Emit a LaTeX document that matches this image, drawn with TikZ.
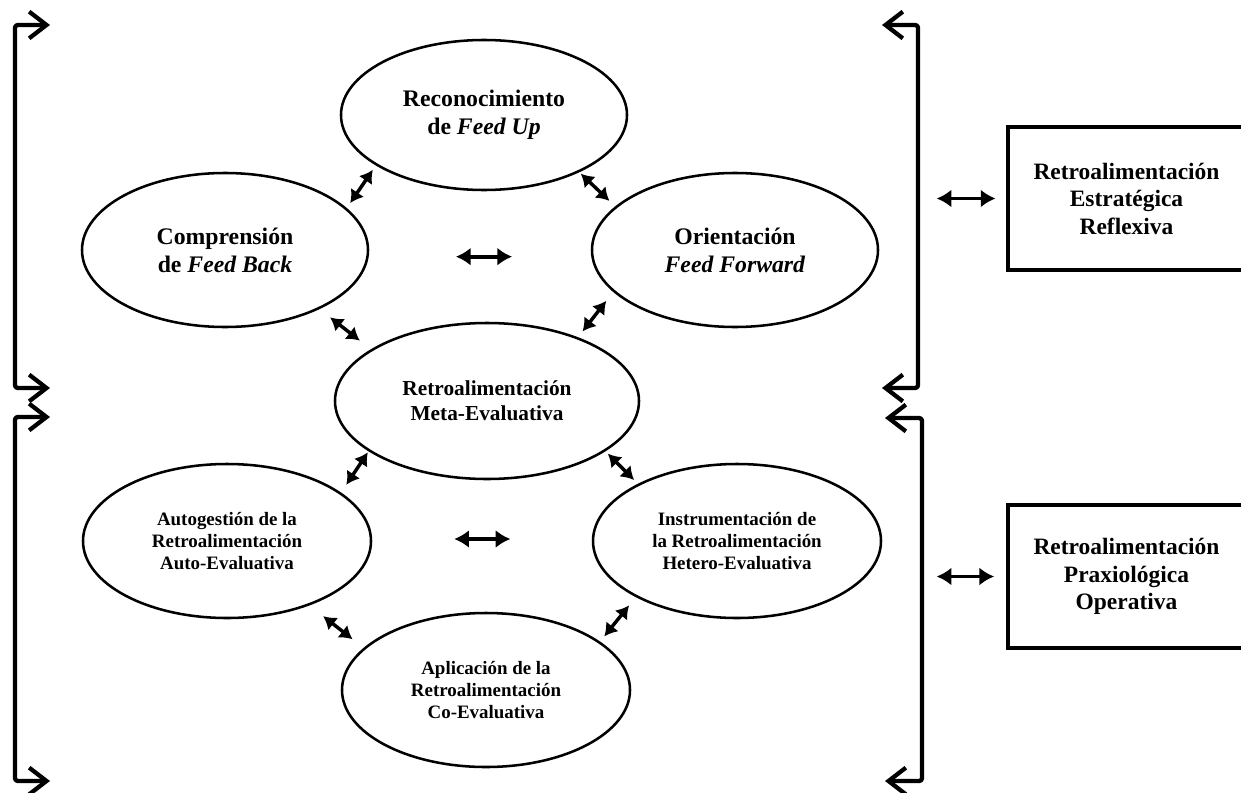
\documentclass[tikz,border=0pt]{standalone}
\usepackage{fontspec}
\setmainfont{Liberation Serif}
\usetikzlibrary{arrows.meta,shapes.geometric,calc}

\begin{document}
\begin{tikzpicture}[
        x=0.75pt,
        y=-0.75pt,
        >=Latex,
        every node/.style={font=\bfseries, align=center},
        elli/.style={draw, ellipse, line width=1.9pt, inner sep=0pt},
        bigtxt/.style={font=\bfseries\fontsize{17.8}{21}\selectfont},
        midtxt/.style={font=\bfseries\fontsize{16}{18.8}\selectfont},
        smalltxt/.style={font=\bfseries\fontsize{14.2}{16.3}\selectfont},
        sidebox/.style={draw, line width=2.8pt, minimum width=177.75pt, minimum height=107.25pt,
            font=\bfseries\fontsize{17.6}{20.6}\selectfont},
        dbl/.style={{Latex[length=9.5pt,width=12pt]}-{Latex[length=9.5pt,width=12pt]}, line width=2.6pt},
        dblwide/.style={{Latex[length=11pt,width=13.5pt]}-{Latex[length=11pt,width=13.5pt]}, line width=2.8pt},
        brk/.style={{Straight Barb[length=13pt,width=20pt]}-{Straight Barb[length=13pt,width=20pt]},
            line width=3.2pt, rounded corners=2pt, line cap=round, line join=round}
    ]
        \useasboundingbox (0,0) rectangle (1241,792);

        % upper group
        \node[elli, bigtxt, minimum width=214.5pt, minimum height=112.5pt] (feedup) at (484,115) {Reconocimiento\\de \textit{Feed Up}};
        \node[elli, bigtxt, minimum width=214.5pt, minimum height=115.5pt] (feedback) at (225,250) {Comprensión\\de \textit{Feed Back}};
        \node[elli, bigtxt, minimum width=214.5pt, minimum height=115.5pt] (feedfwd) at (735,250) {Orientación\\\textit{Feed Forward}};
        \node[elli, midtxt, minimum width=228pt, minimum height=117pt] (meta) at (487,401) {Retroalimentación\\Meta-Evaluativa};

        % lower group
        \node[elli, smalltxt, minimum width=216pt, minimum height=115.5pt] (auto) at (227,541) {Autogestión de la\\Retroalimentación\\Auto-Evaluativa};
        \node[elli, smalltxt, minimum width=216pt, minimum height=115.5pt] (hetero) at (737,541) {Instrumentación de\\la Retroalimentación\\Hetero-Evaluativa};
        \node[elli, smalltxt, minimum width=216pt, minimum height=115.5pt] (coeval) at (486,690) {Aplicación de la\\Retroalimentación\\Co-Evaluativa};

        \draw[dbl, shorten <=4pt, shorten >=4.5pt] (feedup.205.5) -- (feedback.19.8);
        \draw[dbl, shorten <=1.5pt, shorten >=6pt] (feedup.329) -- (feedfwd.160.6);
        \draw[dbl, shorten <=10pt, shorten >=10.5pt] (feedback.328.7) -- (meta.156.7);
        \draw[dbl, shorten <=8.5pt, shorten >=5.5pt] (feedfwd.199.9) -- (meta.35.6);
        \draw[dblwide, shorten <=65pt, shorten >=59pt] ([yshift=-5pt]feedback.east) -- ([yshift=-5pt]feedfwd.west);

        \draw[dbl, shorten <=1pt, shorten >=7pt] (meta.203.4) -- (auto.23.8);
        \draw[dbl, shorten <=2.5pt, shorten >=4pt] (meta.337.1) -- (hetero.150.4);
        \draw[dbl, shorten <=13pt, shorten >=10.5pt] (auto.322.7) -- (coeval.161.8);
        \draw[dbl, shorten <=8pt, shorten >=5pt] (hetero.209) -- (coeval.23.8);
        \draw[dblwide, shorten <=61.5pt, shorten >=61pt] ([yshift=1.5pt]auto.east) -- ([yshift=1.5pt]hetero.west);

        % brackets
        \draw[brk] (50,25) -- (15,25) -- (15,388) -- (50,388);
        \draw[brk] (50,417) -- (15,417) -- (15,781) -- (50,781);
        \draw[brk] (882,25) -- (918,25) -- (918,388) -- (882,388);
        \draw[brk] (885,418) -- (922,418) -- (922,781) -- (885,781);
        \coordinate (brR1) at (918,206);
        \coordinate (brR2) at (922,600);

        % side boxes
        \node[sidebox] (estrat) at (1126.5,198.5) {Retroalimentación\\Estratégica\\Reflexiva};
        \node[sidebox] (praxio) at (1126.5,576.5) {Retroalimentación\\Praxiológica\\Operativa};
        \draw[dblwide, shorten <=14pt, shorten >=8pt] (estrat.west -| brR1) -- (estrat.west);
        \draw[dblwide, shorten <=11pt, shorten >=9pt] (praxio.west -| brR2) -- (praxio.west);
    \end{tikzpicture}
\end{document}
